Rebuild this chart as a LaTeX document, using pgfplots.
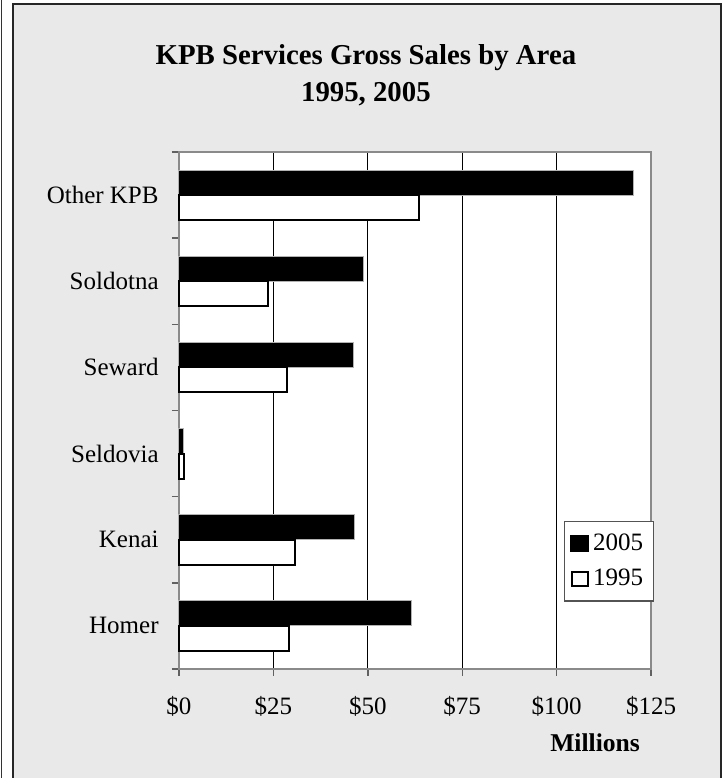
\documentclass[border=0pt]{standalone}
\usepackage{fontspec}
\setmainfont{Liberation Serif}
\usepackage{pgfplots}
\pgfplotsset{compat=1.18}
\definecolor{panel}{HTML}{E9E9E9}
\definecolor{frame}{HTML}{8A8A8A}

\begin{document}
\begin{tikzpicture}
\useasboundingbox (0pt,0pt) rectangle (361.5pt,389pt);
% page edge strip and the grey chart panel
\draw[line width=0.7pt, black!80] (0.7pt,-3pt) -- (0.7pt,392pt);
\draw[line width=0.9pt, black!85, fill=panel] (6.4pt,-5pt) rectangle (360.5pt,386.8pt);
\begin{axis}[
  at={(89.5pt,54.5pt)}, anchor=south west,
  scale only axis, width=236pt, height=258.5pt,
  axis background/.style={fill=white},
  xbar, bar width=0.29,
  xmin=0, xmax=125, ymin=-0.5, ymax=5.5,
  xtick={0,25,50,75,100,125},
  xticklabels={\$0,\$25,\$50,\$75,\$100,\$125},
  xmajorgrids, grid style={black, line width=0.5pt},
  ytick={-0.5,0.5,1.5,2.5,3.5,4.5,5.5}, yticklabels={},
  extra y ticks={0,1,2,3,4,5},
  extra y tick labels={Homer,Kenai,Seldovia,Seward,Soldotna,Other KPB},
  extra y tick style={tick style={draw=none}, grid=none},
  xtick pos=bottom, ytick pos=left,
  tick align=outside, major tick length=3.5pt,
  tick style={frame!70!black, line width=0.7pt},
  axis line style={frame, line width=1pt},
  ticklabel style={font=\fontsize{12.5}{14}\selectfont},
  xticklabel style={anchor=base, yshift=-19.5pt},
  yticklabel style={anchor=east, inner sep=0pt, xshift=-6.5pt},
  legend style={at={(1.006,0.286)}, anchor=north east, draw=frame!60!black,
    fill=white, line width=0.6pt, font=\fontsize{12.5}{14}\selectfont,
    inner xsep=3pt, inner ysep=4pt, row sep=4pt},
  legend cell align=left,
  clip=false,
]
\addplot[fill=black, draw=gray!60, line width=0.5pt, bar shift=0.145,
  legend image code/.code={\draw[fill=black, draw=black] (0pt,-4pt) rectangle (9pt,4pt);}]
  coordinates {(61.5,0) (46.6,1) (1.2,2) (46.2,3) (48.8,4) (120.3,5)};
\addplot[fill=white, draw=black, line width=1pt, bar shift=-0.145,
  legend image code/.code={\draw[fill=white, draw=black, line width=1pt] (0.5pt,-3.5pt) rectangle (8.5pt,3.5pt);}]
  coordinates {(29.2,0) (30.7,1) (1.3,2) (28.7,3) (23.6,4) (63.5,5)};
\legend{2005,1995}
\node[anchor=base, font=\bfseries\fontsize{14.4}{17}\selectfont] at (rel axis cs:0.396,1.170) {KPB Services Gross Sales by Area};
\node[anchor=base, font=\bfseries\fontsize{14.4}{17}\selectfont] at (rel axis cs:0.396,1.0986) {1995, 2005};
\node[anchor=base east, font=\bfseries\fontsize{12.8}{14}\selectfont] at (rel axis cs:0.9915,-0.1605) {Millions};
\end{axis}
\end{tikzpicture}
\end{document}
